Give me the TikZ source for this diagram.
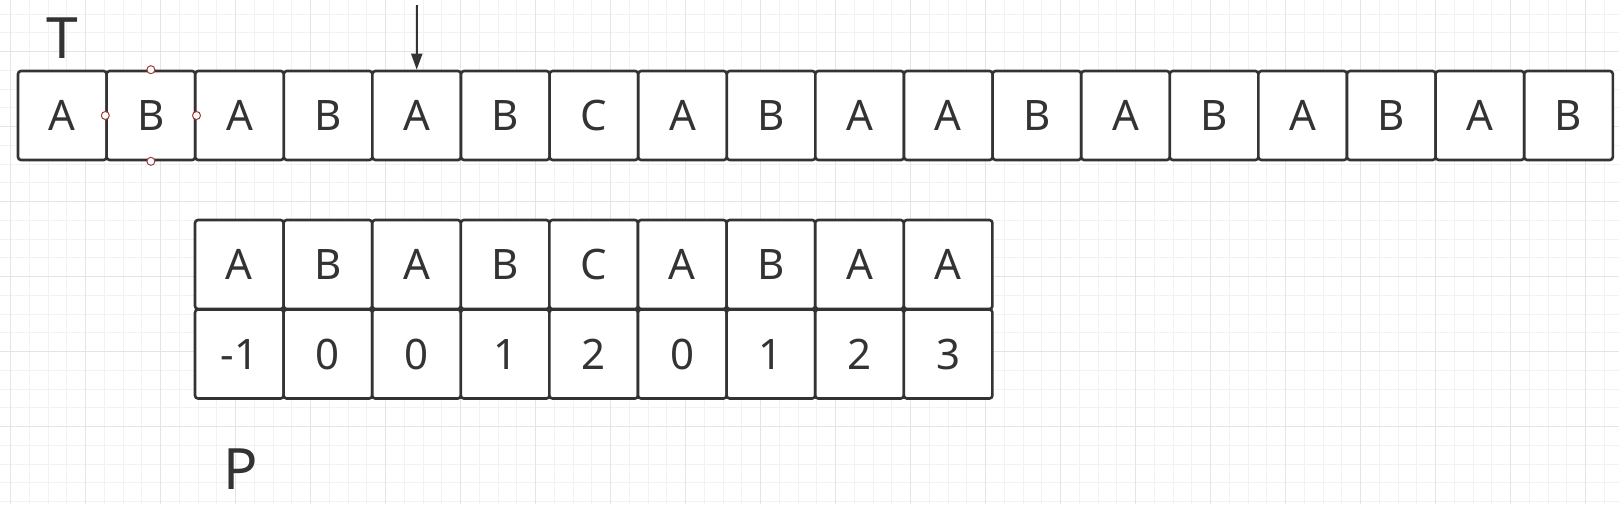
\documentclass[tikz,border=0pt]{standalone}
\usepackage{fontspec}
\setmainfont{Noto Sans}
\usetikzlibrary{arrows.meta}
\definecolor{linec}{HTML}{333333}
\definecolor{textc}{HTML}{333333}
\definecolor{gridminor}{HTML}{F2F2F2}
\definecolor{gridmajor}{HTML}{E4E4E4}
\definecolor{handlec}{HTML}{A33A3A}
\tikzset{
  cell/.style={draw=linec, line width=2.6pt, rounded corners=3pt, fill=white,
    minimum width=88.6pt, minimum height=89pt, inner sep=0pt,
    font=\fontsize{42}{42}\selectfont, text=textc},
  biglabel/.style={inner sep=0pt, font=\fontsize{57}{57}\selectfont, text=textc},
  handle/.style={circle, draw=handlec, fill=white, line width=1pt, minimum size=8pt, inner sep=0pt},
  pointer/.style={draw=linec, line width=2pt, -{Triangle[length=16pt,width=11pt]}},
  minorline/.style={draw=gridminor, line width=1pt},
  majorline/.style={draw=gridmajor, line width=1.1pt}
}
\begin{document}
\begin{tikzpicture}[x=1pt,y=-1pt]
\fill[white] (0,0) rectangle (1619,504);
\useasboundingbox (0,0) rectangle (1619,504);
% grid
\foreach \k in {0,...,86} \draw[minorline] ({10.5+18.75*\k},0) -- ({10.5+18.75*\k},504);
\foreach \k in {0,...,26} \draw[minorline] (0,{14.2+18.75*\k}) -- (1619,{14.2+18.75*\k});
\foreach \k in {0,...,21} \draw[majorline] ({10.5+75*\k},0) -- ({10.5+75*\k},504);
\foreach \k in {0,...,5} \draw[majorline] (0,{51.7+75*\k}) -- (1619,{51.7+75*\k});
% text row T
\foreach \c [count=\i from 0] in {A,B,A,B,A,B,C,A,B,A,A,B,A,B,A,B,A,B}
  \node[cell] (t\i) at ({18+88.6*(\i+0.5)},115.5) {\c};
% pattern P
\foreach \c [count=\i from 0] in {A,B,A,B,C,A,B,A,A}
  \node[cell] (p\i) at ({195+88.6*(\i+0.5)},264.5) {\c};
\foreach \c [count=\i from 0] in {-1,0,0,1,2,0,1,2,3}
  \node[cell] (n\i) at ({195+88.6*(\i+0.5)},354) {\c};
% labels
\node[biglabel] (T) at (62,38.5) {T};
\node[biglabel] (P) at (240.5,469.5) {P};
% pointer
\coordinate (arrstart) at (417,5);
\draw[pointer] (arrstart) -- (t4.north);
% handles
\node[handle] (h1) at (t1.north) {};
\node[handle] (h2) at (t1.south) {};
\node[handle] (h3) at (t1.west) {};
\node[handle] (h4) at (t1.east) {};
\end{tikzpicture}
\end{document}
